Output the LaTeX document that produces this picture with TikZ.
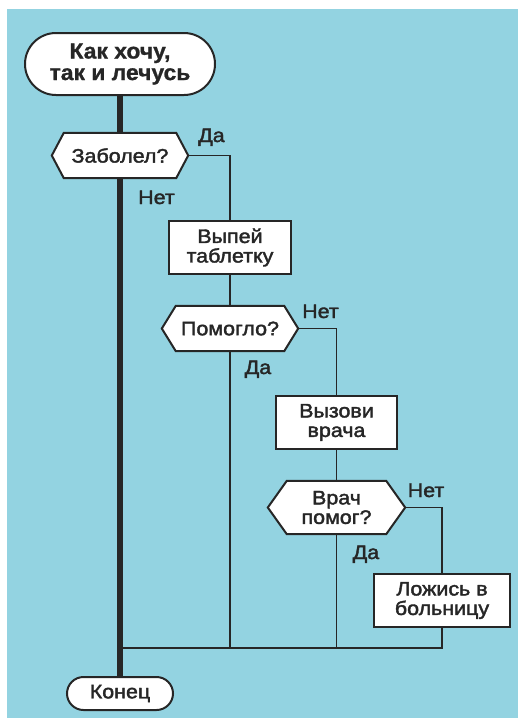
\documentclass[tikz,border=0pt]{standalone}
\usepackage{fontspec}
\setmainfont{Liberation Sans}
\newfontfamily\medfont{Liberation Sans}[FakeStretch=1.1,FakeBold=2]
\newfontfamily\titlefont{Liberation Sans}[FakeBold=1,FakeStretch=1.04]
\usetikzlibrary{backgrounds,shapes.misc}
\definecolor{bg}{HTML}{93D3E1}
\definecolor{ink}{HTML}{262626}
\newcommand{\hexoutline}[2]{\path[draw=ink,fill=white,line width=2pt,line join=miter] (#1.west) -- ([xshift=#2]#1.north west) -- ([xshift=-#2]#1.north east) -- (#1.east) -- ([xshift=-#2]#1.south east) -- ([xshift=#2]#1.south west) -- cycle;}
\begin{document}
\begin{tikzpicture}[x=1pt,y=-1pt,
  txt/.style={text=ink,font=\medfont\fontsize{19.5}{19.5}\selectfont,align=center,inner sep=0pt},
  pill/.style={txt,rounded rectangle,draw=ink,fill=white,line width=2pt},
  boxnode/.style={txt,rectangle,draw=ink,fill=white,line width=2pt},
  hexnode/.style={txt,rectangle},
  lbl/.style={txt,anchor=base},
  conn/.style={draw=ink,line width=1.8pt},
  mainline/.style={draw=ink,line width=6.5pt}]
\useasboundingbox (0,0) rectangle (518,718);
\node[pill,minimum width=190pt,minimum height=62pt,font=\titlefont\bfseries\fontsize{22}{21.5}\selectfont] (start) at (120,64) {Как хочу,\\так и лечусь};
\node[hexnode,minimum width=136pt,minimum height=45pt] (d1) at (120,155.5) {Заболел?};
\node[boxnode,minimum width=122pt,minimum height=53pt] (b1) at (230,247.5) {Выпей\\таблетку};
\node[hexnode,minimum width=136pt,minimum height=45pt] (d2) at (230,328.5) {Помогло?};
\node[boxnode,minimum width=121pt,minimum height=53pt] (b2) at (336.5,422.5) {Вызови\\врача};
\node[hexnode,minimum width=137pt,minimum height=53pt] (d3) at (336.5,507.5) {Врач\\помог?};
\node[boxnode,minimum width=136pt,minimum height=53pt] (b3) at (442,600.5) {Ложись в\\больницу};
\node[pill,minimum width=106pt,minimum height=33pt] (end) at (120,693.5) {Конец};
\node[lbl] (l1) at (211.5,142) {Да};
\node[lbl] (l2) at (156.5,204) {Нет};
\node[lbl] (l3) at (320.5,318) {Нет};
\node[lbl] (l4) at (258,374) {Да};
\node[lbl] (l5) at (426,497) {Нет};
\node[lbl] (l6) at (366,559) {Да};
\coordinate (m) at (120,648);
\begin{scope}[on background layer]
\fill[white] (0,0) rectangle (518,718);
\fill[bg] (7,9) rectangle (518,718);
\hexoutline{d1}{12pt}
\hexoutline{d2}{14pt}
\hexoutline{d3}{19pt}
\end{scope}
\draw[mainline] (start.south) -- (d1.north);
\draw[mainline] (d1.south) -- (end.north);
\draw[conn] (d1.east) -| (b1.north);
\draw[conn] (b1.south) -- (d2.north);
\draw[conn] (d2.east) -| (b2.north);
\draw[conn] (b2.south) -- (d3.north);
\draw[conn] (d3.east) -| (b3.north);
\draw[conn] (b3.south) |- (m);
\draw[conn] (d2.south) -- (d2.south |- m);
\draw[conn] (d3.south) -- (d3.south |- m);
\end{tikzpicture}
\end{document}
